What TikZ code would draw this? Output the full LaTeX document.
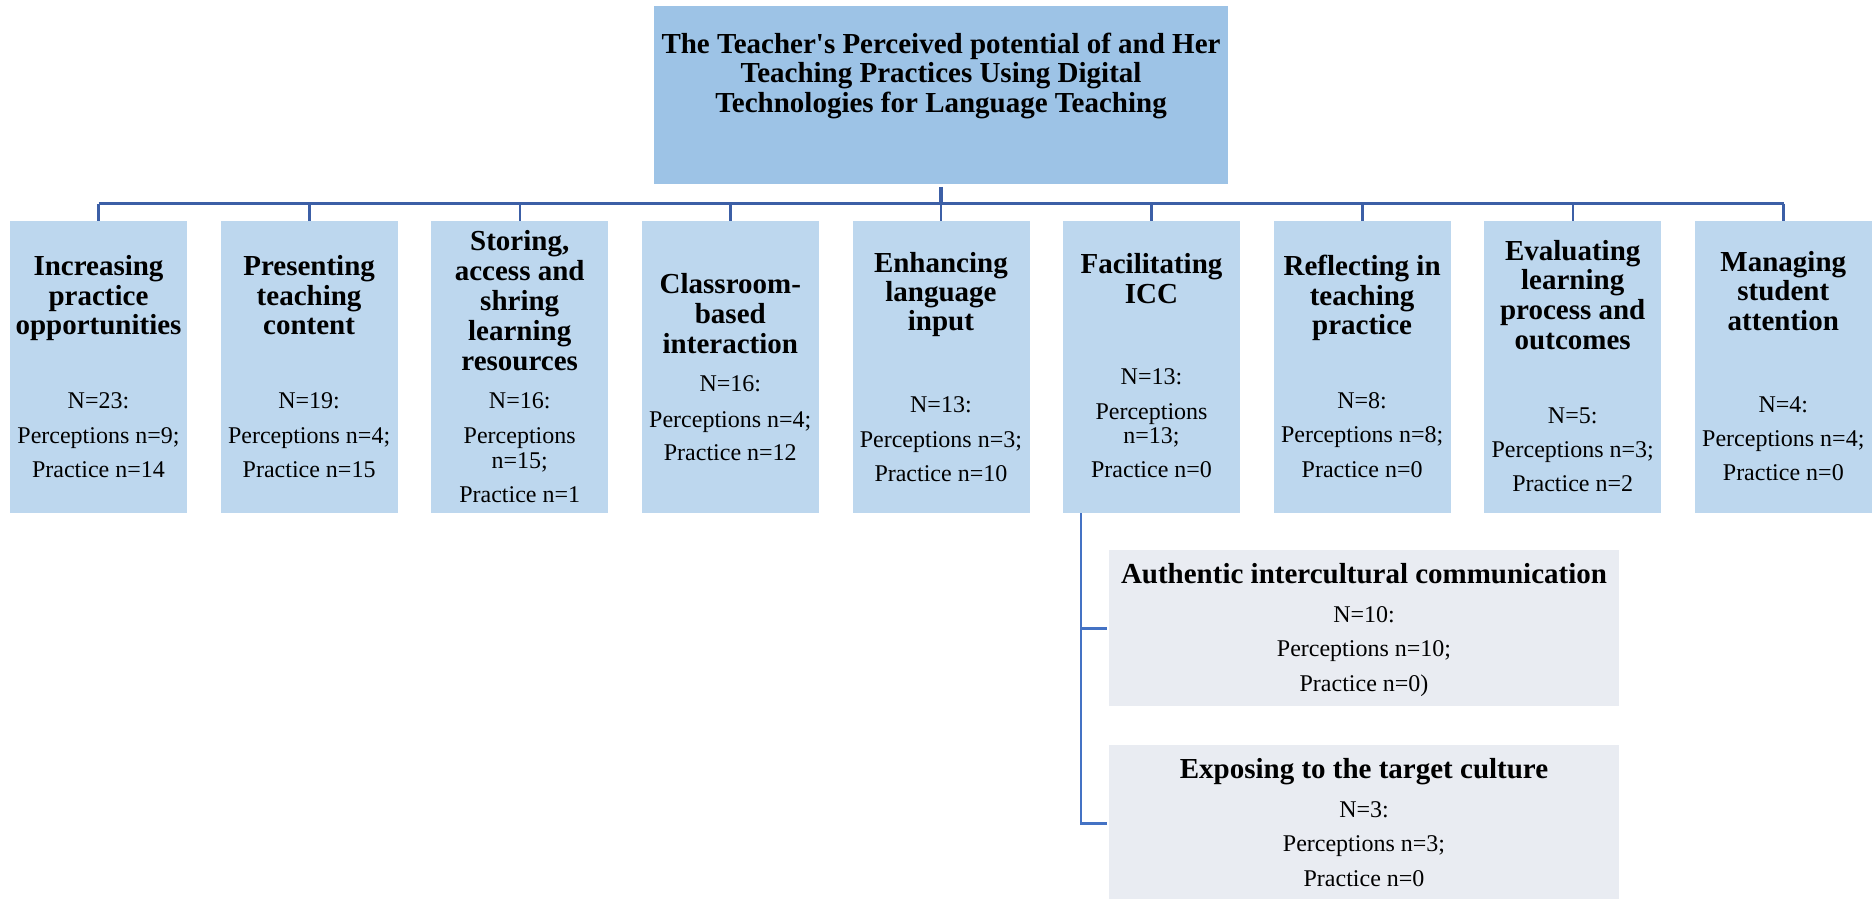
\documentclass[tikz,border=0pt]{standalone}
\usepackage{fontspec}
\newfontfamily\tnr{Liberation Serif}
\definecolor{rootfill}{HTML}{9DC3E6}
\definecolor{catfill}{HTML}{BDD7EE}
\definecolor{subfill}{HTML}{E9ECF2}
\definecolor{barblue}{HTML}{3C5FA6}
\definecolor{subblue}{HTML}{4472C4}
\begin{document}
\begin{tikzpicture}[x=1pt,y=-1pt,
  rootbox/.style={fill=rootfill,draw=none,inner sep=0,anchor=north west,minimum width=574pt,minimum height=178pt},
  catbox/.style={fill=catfill,draw=none,inner sep=0,anchor=north west,minimum width=177pt,minimum height=292pt},
  subbox/.style={fill=subfill,draw=none,inner sep=0,anchor=north west,minimum width=510pt,minimum height=156pt},
  head/.style={font=\tnr\bfseries\fontsize{29}{30}\selectfont,anchor=base,inner sep=0},
  stat/.style={font=\tnr\fontsize{24}{26}\selectfont,anchor=base,inner sep=0},
  conn/.style={draw=barblue,line width=3.3pt},
  stem/.style={draw=barblue,line width=3.7pt},
  drop/.style={draw=barblue,line width=2.5pt},
  subconn/.style={draw=subblue,line width=2.7pt}]
\useasboundingbox (0,0) rectangle (1876,898);
\fill[white] (0,0) rectangle (1876,898);

% boxes
\node[rootbox] (root) at (654,6) {};
\foreach \i in {1,...,9}
  \node[catbox] (b\i) at ({10+210.6*(\i-1)},221) {};
\node[subbox] (auth) at (1109,550) {};
\node[subbox] (expo) at (1109,745) {};

% connectors
\coordinate (hb) at (0,203.5);
\draw[stem] ([yshift=-2.5pt]root.south) -- (root.south |- hb);
\foreach \i in {1,...,9}
  \draw[drop] (b\i.north |- hb) -- (b\i.north);
\draw[conn] (b1.north |- hb) -- (b9.north |- hb);
\coordinate (trunk) at ([xshift=18pt]b6.south west);
\draw[subconn,shorten >=2.5pt] (trunk) |- (expo.west);
\draw[subconn,shorten >=2.5pt] (trunk |- auth.west) -- (auth.west);

% root title
\foreach \yy/\s [count=\k] in {53/{The Teacher's Perceived potential of and Her},
    82.5/{Teaching Practices Using Digital},112/{Technologies for Language Teaching}}
  \node[head] (r\k) at (941,\yy) {\s};

% category headings
\foreach \yy/\s [count=\k] in {275/Increasing,305/practice,334/opportunities}
  \node[head] (h1-\k) at (98.5,\yy) {\s};
\foreach \yy/\s [count=\k] in {275/Presenting,305/teaching,334/content}
  \node[head] (h2-\k) at (309.1,\yy) {\s};
\foreach \yy/\s [count=\k] in {250/{Storing,},280/access and,310/shring,340/learning,370/resources}
  \node[head] (h3-\k) at (519.7,\yy) {\s};
\foreach \yy/\s [count=\k] in {293/Classroom-,323/based,353/interaction}
  \node[head] (h4-\k) at (730.3,\yy) {\s};
\foreach \yy/\s [count=\k] in {272/Enhancing,301/language,330/input}
  \node[head] (h5-\k) at (940.9,\yy) {\s};
\foreach \yy/\s [count=\k] in {273/Facilitating,303/ICC}
  \node[head] (h6-\k) at (1151.5,\yy) {\s};
\foreach \yy/\s [count=\k] in {275/Reflecting in,305/teaching,334/practice}
  \node[head] (h7-\k) at (1362.1,\yy) {\s};
\foreach \yy/\s [count=\k] in {260/Evaluating,289/learning,319/process and,349/outcomes}
  \node[head] (h8-\k) at (1572.7,\yy) {\s};
\foreach \yy/\s [count=\k] in {271/Managing,300/student,330/attention}
  \node[head] (h9-\k) at (1783.3,\yy) {\s};

% category counts
\foreach \yy/\s [count=\k] in {408/N=23:,443/Perceptions n=9;,477/Practice n=14}
  \node[stat] (s1-\k) at (98.5,\yy) {\s};
\foreach \yy/\s [count=\k] in {408/N=19:,443/Perceptions n=4;,477/Practice n=15}
  \node[stat] (s2-\k) at (309.1,\yy) {\s};
\foreach \yy/\s [count=\k] in {408/N=16:,443/Perceptions,468/n=15;,502/Practice n=1}
  \node[stat] (s3-\k) at (519.7,\yy) {\s};
\foreach \yy/\s [count=\k] in {391/N=16:,427/Perceptions n=4;,460/Practice n=12}
  \node[stat] (s4-\k) at (730.3,\yy) {\s};
\foreach \yy/\s [count=\k] in {412/N=13:,447/Perceptions n=3;,481/Practice n=10}
  \node[stat] (s5-\k) at (940.9,\yy) {\s};
\foreach \yy/\s [count=\k] in {384/N=13:,419/Perceptions,443/n=13;,477/Practice n=0}
  \node[stat] (s6-\k) at (1151.5,\yy) {\s};
\foreach \yy/\s [count=\k] in {408/N=8:,442/Perceptions n=8;,477/Practice n=0}
  \node[stat] (s7-\k) at (1362.1,\yy) {\s};
\foreach \yy/\s [count=\k] in {423/N=5:,457/Perceptions n=3;,491/Practice n=2}
  \node[stat] (s8-\k) at (1572.7,\yy) {\s};
\foreach \yy/\s [count=\k] in {412/N=4:,446/Perceptions n=4;,480/Practice n=0}
  \node[stat] (s9-\k) at (1783.3,\yy) {\s};

% ICC sub-themes
\node[head] (ah) at (1364,583) {Authentic intercultural communication};
\foreach \yy/\s [count=\k] in {622/N=10:,656/Perceptions n=10;,691/Practice n=0)}
  \node[stat] (as-\k) at (1364,\yy) {\s};
\node[head] (eh) at (1364,778) {Exposing to the target culture};
\foreach \yy/\s [count=\k] in {817/N=3:,851/Perceptions n=3;,886/Practice n=0}
  \node[stat] (es-\k) at (1364,\yy) {\s};
\end{tikzpicture}
\end{document}
